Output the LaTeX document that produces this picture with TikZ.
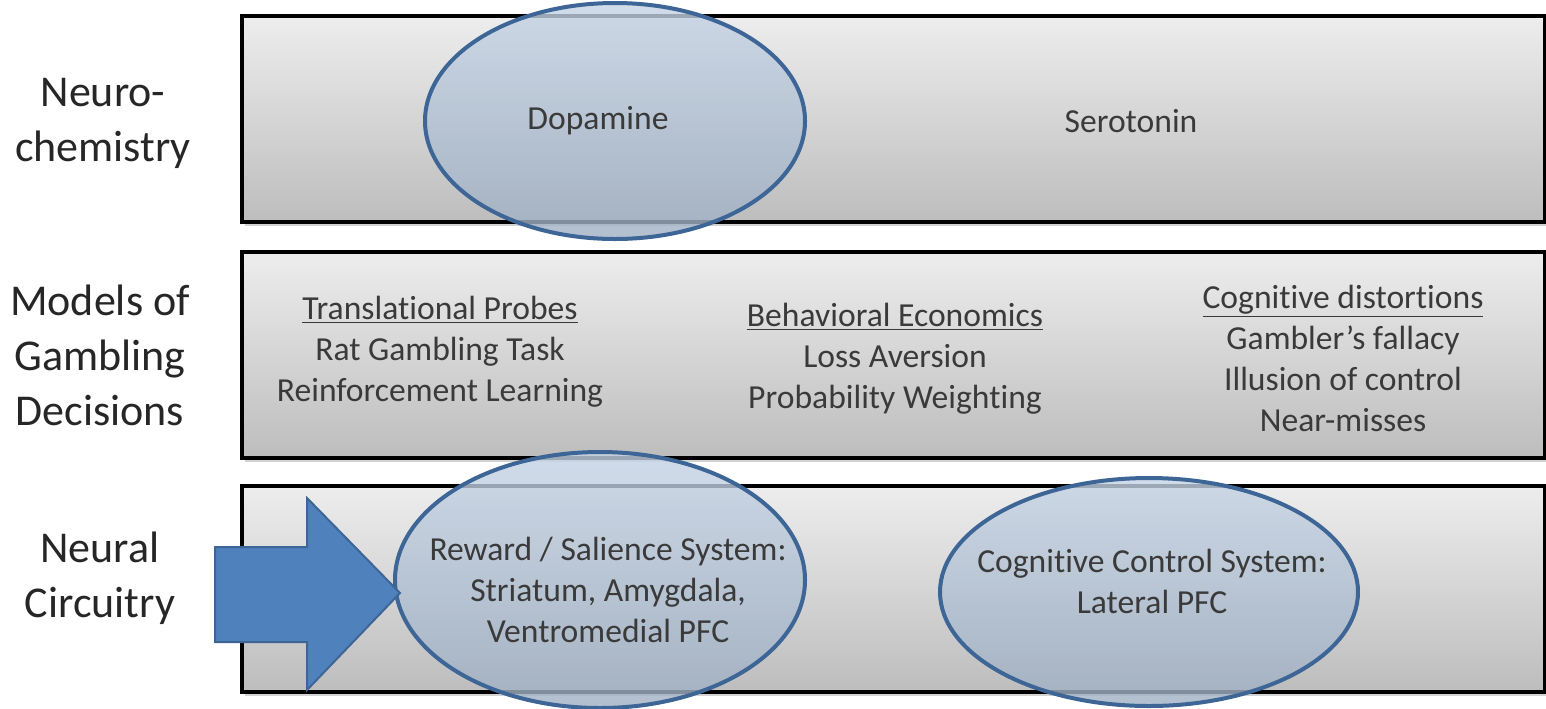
\documentclass[tikz,border=0pt]{standalone}
\usepackage{fontspec}
\setmainfont[Ligatures=NoCommon,RawFeature={-liga;-clig;-calt}]{Carlito}
\usetikzlibrary{shapes.geometric,shadows}
\definecolor{bandtop}{HTML}{EDEDED}
\definecolor{bandbot}{HTML}{BDBDBD}
\definecolor{ovaltop}{HTML}{C4D3E4}
\definecolor{ovalbot}{HTML}{9FAFC3}
\definecolor{ovalline}{HTML}{3D6596}
\definecolor{arrowblue}{HTML}{4F81BD}
\definecolor{inktext}{HTML}{3A3A3A}
\tikzset{
	band/.style={draw=black, line width=2pt, top color=bandtop, bottom color=bandbot,
		minimum width=651.5pt, minimum height=103pt,
		drop shadow={shadow xshift=1.5pt, shadow yshift=-2pt, opacity=0.35}},
	oval/.style={ellipse, draw=ovalline, line width=2pt, top color=ovaltop, bottom color=ovalbot, fill opacity=0.8},
	rowlabel/.style={font=\fontsize{22}{27.5}\selectfont, align=center, text=black!85},
	bandtext/.style={font=\fontsize{16.8}{20.5}\selectfont, align=center, text=inktext}
}
\begin{document}
\begin{tikzpicture}[x=0.5pt, y=-0.5pt]
	\useasboundingbox (0,0) rectangle (1546,708);
	% three bands
	\node[band] (chem) at (893.5,119) {};
	\node[band] (models) at (893.5,355) {};
	\node[band] (circuit) at (893.5,589) {};
	% row labels
	\node[rowlabel] (chemlab) at (103,123) {Neuro-\\chemistry};
	\node[rowlabel] (modlab) at (100,355) {Models of\\Gambling\\Decisions};
	\node[rowlabel] (circlab) at (100,578) {Neural\\Circuitry};
	% ovals
	\node[oval, minimum width=190pt, minimum height=118pt] (dopa) at (615,121) {};
	\node[oval, minimum width=205pt, minimum height=128pt] (reward) at (600,580) {};
	\node[oval, minimum width=209pt, minimum height=114pt] (control) at (1149,592) {};
	\fill[arrowblue, draw=ovalline, line width=1pt] (215,547) -- (307,547) -- (307,498) -- (400,593)
		-- (307,690) -- (307,642) -- (215,642) -- cycle;
	% texts
	\node[bandtext] (dopatxt) at (598,121) {Dopamine};
	\node[bandtext] (serotxt) at (1131,121) {Serotonin};
	\node[bandtext] (probes) at (440,352) {\underline{Translational Probes}\\Rat Gambling Task\\Reinforcement Learning};
	\node[bandtext] (econ) at (895,359) {\underline{Behavioral Economics}\\Loss Aversion\\Probability Weighting};
	\node[bandtext] (distort) at (1343,358) {\underline{Cognitive distortions}\\Gambler’s fallacy\\Illusion of control\\Near-misses};
	\node[bandtext] (rewtxt) at (608,590) {Reward / Salience System:\\Striatum, Amygdala,\\Ventromedial PFC};
	\node[bandtext] (ctltxt) at (1152,581) {Cognitive Control System:\\Lateral PFC};
\end{tikzpicture}
\end{document}
